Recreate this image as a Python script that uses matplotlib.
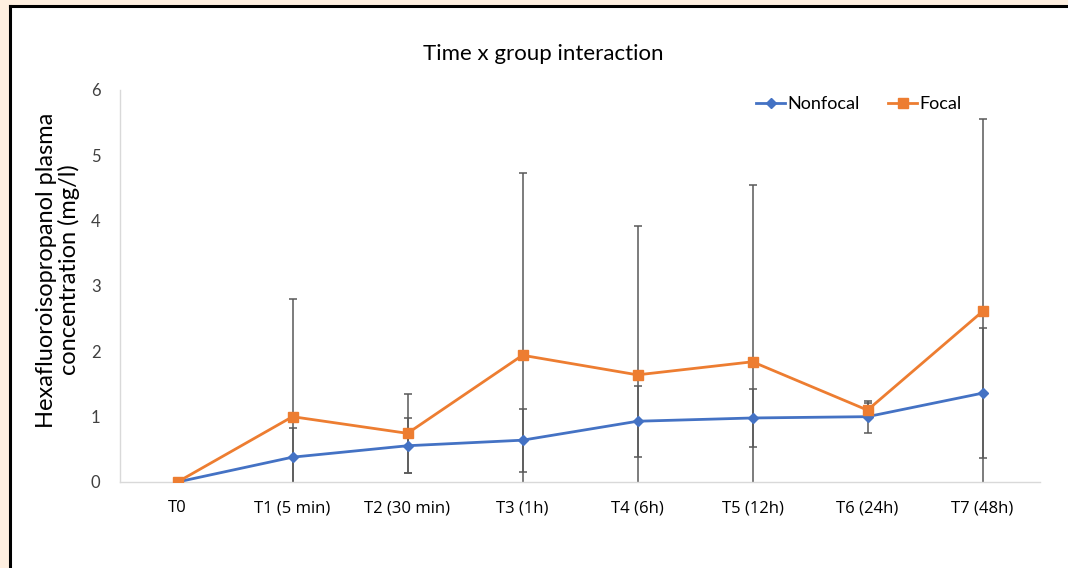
import matplotlib
matplotlib.use('Agg')
import matplotlib.pyplot as plt
from matplotlib.patches import Rectangle
from matplotlib.lines import Line2D


# Chart data
TIMEPOINTS = ['T0', 'T1 (5 min)', 'T2 (30 min)', 'T3 (1h)', 'T4 (6h)',
              'T5 (12h)', 'T6 (24h)', 'T7 (48h)']
NONFOCAL = [0, 0.38, 0.555, 0.64, 0.93, 0.98, 1.0, 1.36]
NONFOCAL_ERR = [0, 0.45, 0.42, 0.48, 0.54, 0.45, 0.245, 1.0]
FOCAL = [0, 1.0, 0.745, 1.94, 1.64, 1.84, 1.10, 2.61]
FOCAL_ERR = [0, 1.8, 0.6, 2.79, 2.28, 2.7, 0.11, 2.95]
Y_TICKS = [0, 1, 2, 3, 4, 5, 6]

BLUE = '#4472C4'
ORANGE = '#ED7D31'
ERR_GREY = '#595959'


def main():
    plt.rcParams['font.family'] = ['Lato', 'DejaVu Sans']

    fig = plt.figure(figsize=(10.68, 5.68), dpi=100, linewidth=0)
    fig.patch.set_facecolor('#FEEFE0')

    # white chart area, black frame only on the left and top
    x0 = 9.5 / 1068
    y1 = 1 - 6 / 568
    fig.add_artist(Rectangle((x0, 0), 1.0, y1, transform=fig.transFigure,
                             facecolor='white', edgecolor='none', zorder=-10))
    fig.add_artist(Line2D([x0, x0], [0, y1], transform=fig.transFigure,
                          color='black', linewidth=2.2, zorder=-9))
    fig.add_artist(Line2D([x0, 1.01], [y1, y1], transform=fig.transFigure,
                          color='black', linewidth=2.2, zorder=-9))

    ax = fig.add_axes([120 / 1068, 1 - 482 / 568, 920 / 1068, 392 / 568])
    ax.set_facecolor('none')
    ax.set_zorder(1)

    x = list(range(len(TIMEPOINTS)))

    ax.errorbar(x, NONFOCAL, yerr=NONFOCAL_ERR, fmt='none', ecolor=ERR_GREY,
                elinewidth=1.1, capsize=3, capthick=1.1, zorder=2)
    ax.errorbar(x, FOCAL, yerr=FOCAL_ERR, fmt='none', ecolor=ERR_GREY,
                elinewidth=1.1, capsize=3, capthick=1.1, zorder=2)

    ax.plot(x, NONFOCAL, color=BLUE, linewidth=2.0, marker='D',
            markersize=5, label='Nonfocal', zorder=3)
    ax.plot(x, FOCAL, color=ORANGE, linewidth=2.0, marker='s',
            markersize=7, label='Focal', zorder=4)

    ax.set_xlim(-0.5, len(TIMEPOINTS) - 0.5)
    ax.set_ylim(0, 6)
    ax.set_yticks(Y_TICKS)
    ax.set_xticks(x)
    ax.set_xticklabels(TIMEPOINTS, family=['Open Sans', 'DejaVu Sans'],
                       fontsize=12, color='black')
    for lab in ax.get_yticklabels():
        lab.set_fontsize(12)
        lab.set_color('#404040')
    ax.tick_params(axis='x', length=0, pad=13)
    ax.tick_params(axis='y', length=0, pad=14)

    for side in ['top', 'right']:
        ax.spines[side].set_visible(False)
    for side in ['left', 'bottom']:
        ax.spines[side].set_color('#D9D9D9')
        ax.spines[side].set_linewidth(1.0)

    ax.set_ylabel('Hexafluoroisopropanol plasma\nconcentration (mg/l)',
                  fontsize=17, color='black', linespacing=1.1)
    ax.yaxis.set_label_coords(-0.043, 0.541)

    fig.text(543 / 1068, 1 - 54 / 568, 'Time x group interaction',
             ha='center', va='center', fontsize=16, color='black')

    ax.legend(loc='upper right', bbox_to_anchor=(0.932, 1.025), ncol=2,
              frameon=False, fontsize=13, handlelength=1.6,
              handletextpad=0.1, columnspacing=1.6)

    fig.savefig('out.png', dpi=100, facecolor=fig.get_facecolor())


if __name__ == "__main__":
    main()
